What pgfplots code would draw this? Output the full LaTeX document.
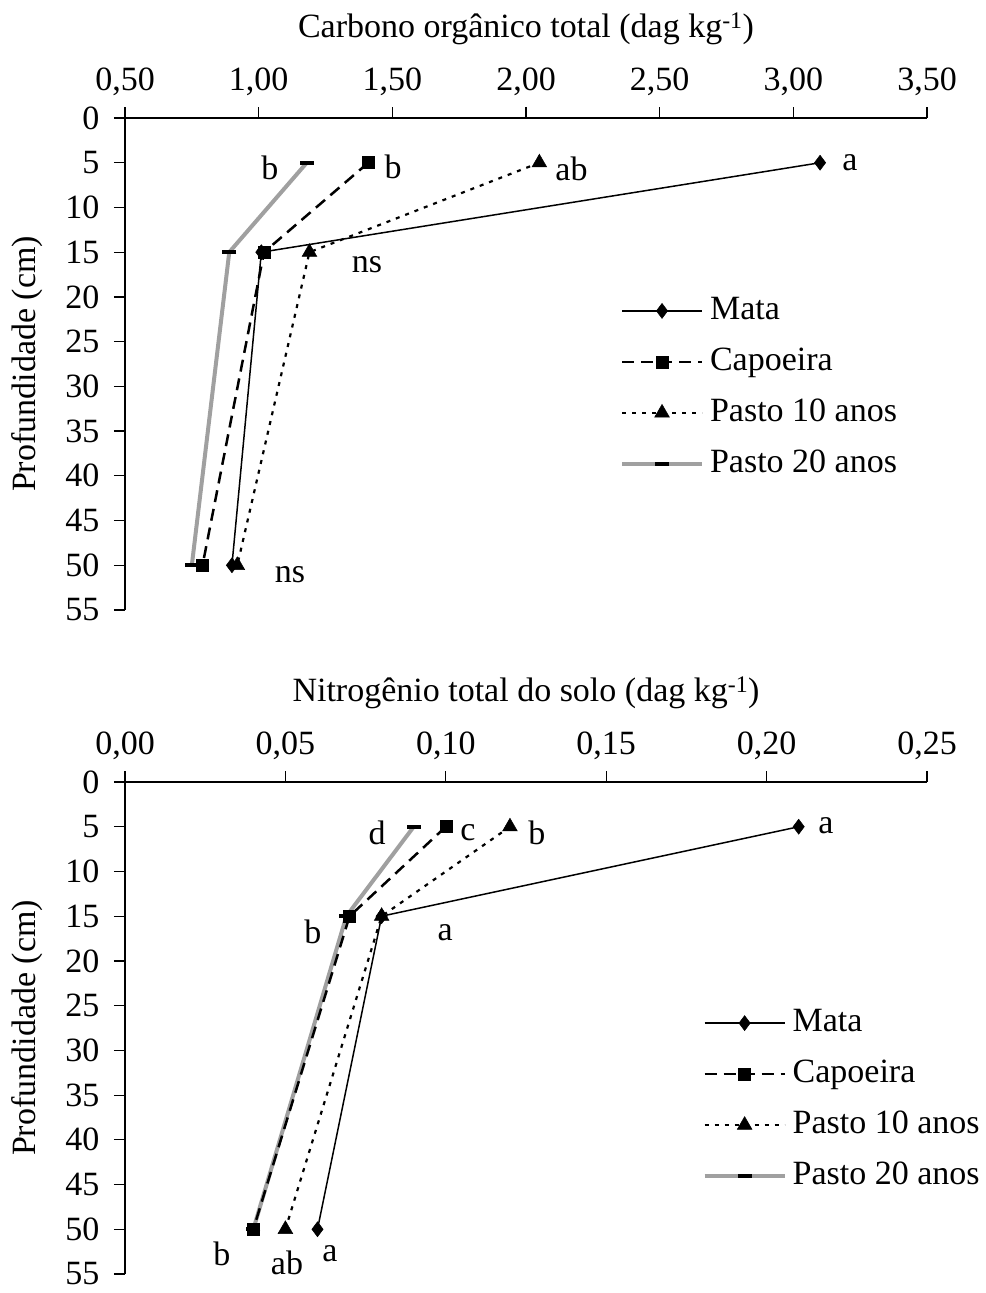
\documentclass[border=0pt]{standalone}
\usepackage{fontspec}
\setmainfont{Liberation Serif}
\usepackage{pgfplots}
\pgfplotsset{compat=1.18}

\definecolor{pastogray}{RGB}{160,160,160}

\pgfplotsset{
  soilaxis/.style={
    scale only axis, width=802bp, height=492bp,
    anchor=north west,
    ymin=0, ymax=55, y dir=reverse, ytick={0,5,...,55},
    axis x line*=top, axis y line*=left,
    axis line style={line width=1.2bp, -},
    tick style={line width=1.2bp, black},
    major tick length=11bp,
    tick align=outside,
    clip=false,
    /pgf/number format/assume math mode=true,
    xticklabel style={/pgf/number format/fixed, /pgf/number format/fixed zerofill,
      /pgf/number format/precision=2, /pgf/number format/use comma},
    yticklabel style={xshift=-3bp},
    ylabel={Profundidade (cm)},
    legend style={draw=none, fill=none, inner sep=0pt, row sep=12bp, column sep=3bp,
      nodes={inner sep=3bp, text height=25bp, text depth=8bp},
      anchor=north west},
    legend cell align=left,
    legend image code/.code={\draw[mark repeat=2,mark phase=2,##1] plot coordinates {(0bp,0bp)(40bp,0bp)(80bp,0bp)};},
  },
  mata/.style={black, line width=1.5bp, mark=diamond*, mark size=7.5bp, mark options={solid, line width=0.5bp}},
  capo/.style={black, line width=2.5bp, dash pattern=on 12bp off 7bp, mark=square*, mark size=6bp, mark options={solid, line width=0.5bp}},
  p10/.style={black, line width=2.2bp, dash pattern=on 4bp off 6bp, mark=triangle*, mark size=8.5bp, mark options={solid, line width=0.5bp}},
  p20/.style={pastogray, line width=4bp, mark=-, mark size=7bp, mark options={solid, black, line width=4bp}},
}

\begin{document}
\fontsize{34bp}{40bp}\selectfont
\begin{tikzpicture}
\useasboundingbox (0,0) rectangle (986bp,-1293bp);

% Carbono organico total
\begin{axis}[soilaxis, at={(125bp,-118bp)},
  xmin=0.5, xmax=3.5, xtick={0.5,1,1.5,2,2.5,3,3.5},
  xlabel={Carbono orgânico total (dag kg\textsuperscript{-1})},
  legend style={at={(0.617,0.648)}}]
  \addlegendimage{mata}\addlegendentry{Mata}
  \addlegendimage{capo}\addlegendentry{Capoeira}
  \addlegendimage{p10}\addlegendentry{Pasto 10 anos}
  \addlegendimage{p20}\addlegendentry{Pasto 20 anos}
  \addplot[p20, forget plot] coordinates {(1.18,5) (0.89,15) (0.75,50)};
  \addplot[mata, forget plot] coordinates {(3.10,5) (1.01,15) (0.90,50)};
  \addplot[capo, forget plot] coordinates {(1.41,5) (1.02,15) (0.79,50)};
  \addplot[p10, forget plot] coordinates {(2.05,5) (1.19,15) (0.92,50)};
  \node at (axis cs:1.042,5.6) {b};
  \node at (axis cs:1.503,5.5) {b};
  \node at (axis cs:2.17,5.7) {ab};
  \node at (axis cs:3.212,5.0) {a};
  \node at (axis cs:1.405,16.4) {ns};
  \node at (axis cs:1.117,51.1) {ns};
\end{axis}

% Nitrogenio total do solo
\begin{axis}[soilaxis, at={(125bp,-782bp)},
  xmin=0, xmax=0.25, xtick={0,0.05,0.1,0.15,0.2,0.25},
  xlabel={Nitrogênio total do solo (dag kg\textsuperscript{-1})},
  legend style={at={(0.72,0.55)}}]
  \addlegendimage{mata}\addlegendentry{Mata}
  \addlegendimage{capo}\addlegendentry{Capoeira}
  \addlegendimage{p10}\addlegendentry{Pasto 10 anos}
  \addlegendimage{p20}\addlegendentry{Pasto 20 anos}
  \addplot[p20, forget plot] coordinates {(0.09,5) (0.069,15) (0.04,50)};
  \addplot[mata, forget plot] coordinates {(0.21,5) (0.08,15) (0.06,50)};
  \addplot[capo, forget plot] coordinates {(0.10,5) (0.07,15) (0.04,50)};
  \addplot[p10, forget plot] coordinates {(0.12,5) (0.08,15) (0.05,50)};
  \node at (axis cs:0.0786,5.67) {d};
  \node at (axis cs:0.1069,5.67) {c};
  \node at (axis cs:0.1284,5.67) {b};
  \node at (axis cs:0.2185,4.9) {a};
  \node at (axis cs:0.0586,16.8) {b};
  \node at (axis cs:0.0998,16.8) {a};
  \node at (axis cs:0.0302,52.7) {b};
  \node at (axis cs:0.0505,53.8) {ab};
  \node at (axis cs:0.0639,52.7) {a};
\end{axis}
\end{tikzpicture}
\end{document}
